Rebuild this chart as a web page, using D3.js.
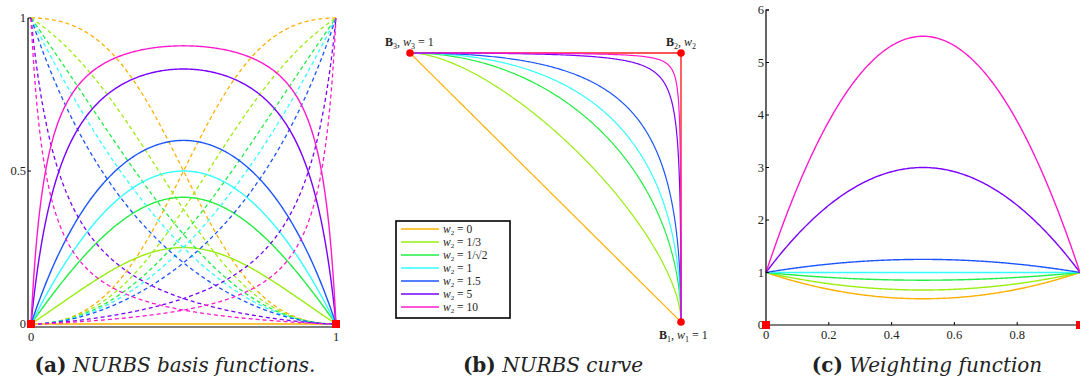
<!DOCTYPE html>
<html><head><meta charset="utf-8">
<script src="https://cdn.jsdelivr.net/npm/d3@7/dist/d3.min.js"></script>
<style>
body{margin:0;background:#fff;}
svg text{font-family:"Liberation Serif","DejaVu Serif",serif;fill:#222;}
</style></head>
<body>
<svg id="c" width="1080" height="383"></svg>
<script>
// ---- data ----
const weights = [0, 1/3, Math.SQRT1_2, 1, 1.5, 5, 10];
const weightLabels = ["0", "1/3", "1/\u221A2", "1", "1.5", "5", "10"];
const colors = ["#ffb000", "#99ee11", "#22ee44", "#33ffff", "#1a55ff", "#7a00ff", "#ff1acc"];
const ticksA_x = [0, 1];
const ticksA_y = [0, 0.5, 1];
const ticksC_x = [0, 0.2, 0.4, 0.6, 0.8, 1];
const ticksC_xLabels = ["0", "0.2", "0.4", "0.6", "0.8", ""];
const ticksC_y = [0, 1, 2, 3, 4, 5, 6];
const controlPts = [[0, 1], [1, 1], [1, 0]]; // B3, B2, B1 in panel (b)
const tGrid = d3.range(0, 1.00001, 0.004);
const captions = [["(a)", " NURBS basis functions."], ["(b)", " NURBS curve"], ["(c)", " Weighting function"]];

// rational quadratic basis (w1 = w3 = 1)
const W = (t, w) => (1 - t) * (1 - t) + 2 * t * (1 - t) * w + t * t;
const N0 = (t, w) => (1 - t) * (1 - t) / W(t, w);
const N1 = (t, w) => 2 * t * (1 - t) * w / W(t, w);
const N2 = (t, w) => t * t / W(t, w);

const svg = d3.select("#c");

// ---------- Panel (a) ----------
const ax = d3.scaleLinear().domain([0, 1]).range([31, 336]);
const ay = d3.scaleLinear().domain([0, 1]).range([324, 18]);
const gA = svg.append("g");
const lineA = f => d3.line().x(t => ax(t)).y(t => ay(f(t)));
weights.forEach((w, i) => {
  gA.append("path").attr("d", lineA(t => N0(t, w))(tGrid)).attr("fill", "none")
    .attr("stroke", colors[i]).attr("stroke-width", 1.3).attr("stroke-dasharray", "4,3");
  gA.append("path").attr("d", lineA(t => N2(t, w))(tGrid)).attr("fill", "none")
    .attr("stroke", colors[i]).attr("stroke-width", 1.3).attr("stroke-dasharray", "4,3");
  gA.append("path").attr("d", lineA(t => N1(t, w))(tGrid)).attr("fill", "none")
    .attr("stroke", colors[i]).attr("stroke-width", 1.4);
});
// axes
gA.append("path").attr("d", `M28,18V327H338`).attr("fill", "none").attr("stroke", "#000").attr("stroke-width", 1.2);
ticksA_y.forEach(v => {
  gA.append("line").attr("x1", 28).attr("x2", 31).attr("y1", ay(v)).attr("y2", ay(v)).attr("stroke", "#000");
  gA.append("text").attr("x", 26).attr("y", ay(v) + 4).attr("text-anchor", "end").attr("font-size", 12.5).text(v);
});
ticksA_x.forEach(v => {
  gA.append("text").attr("x", ax(v)).attr("y", 341).attr("text-anchor", "middle").attr("font-size", 12.5).text(v);
});
[0, 1].forEach(v => {
  gA.append("rect").attr("x", ax(v) - 4).attr("y", ay(0) - 4).attr("width", 8).attr("height", 8).attr("fill", "#ff0000");
});

// ---------- Panel (b) ----------
const bx = d3.scaleLinear().domain([0, 1]).range([410, 681]);
const by = d3.scaleLinear().domain([0, 1]).range([322, 53]);
const gB = svg.append("g");
gB.append("path").attr("d", d3.line().x(d => bx(d[0])).y(d => by(d[1]))(controlPts))
  .attr("fill", "none").attr("stroke", "#ff2020").attr("stroke-width", 1.4);
const P1 = controlPts[2], P2 = controlPts[1], P3 = controlPts[0];
weights.forEach((w, i) => {
  const pts = tGrid.map(t => {
    const a = N0(t, w), b = N1(t, w), c = N2(t, w);
    return [a * P1[0] + b * P2[0] + c * P3[0], a * P1[1] + b * P2[1] + c * P3[1]];
  });
  gB.append("path").attr("d", d3.line().x(d => bx(d[0])).y(d => by(d[1]))(pts))
    .attr("fill", "none").attr("stroke", colors[i]).attr("stroke-width", 1.2);
});
controlPts.forEach(p => {
  gB.append("circle").attr("cx", bx(p[0])).attr("cy", by(p[1])).attr("r", 3.8).attr("fill", "#ff0000");
});
function mathLabel(g, x, y, idx, rest) {
  const t = g.append("text").attr("x", x).attr("y", y).attr("font-size", 12).attr("fill", "#333");
  t.append("tspan").attr("font-weight", "bold").text("B");
  t.append("tspan").attr("font-size", 8).attr("dy", 3).text(idx);
  t.append("tspan").attr("dy", -3).text(", ");
  t.append("tspan").attr("font-style", "italic").text("w");
  t.append("tspan").attr("font-size", 8).attr("dy", 3).text(idx);
  t.append("tspan").attr("dy", -3).text(rest);
}
mathLabel(gB, 385, 46, "3", " = 1");
mathLabel(gB, 666, 46, "2", "");
mathLabel(gB, 659, 339, "1", " = 1");
// legend
const lg = gB.append("g");
lg.append("rect").attr("x", 396).attr("y", 221).attr("width", 114).attr("height", 97)
  .attr("fill", "#fff").attr("stroke", "#000").attr("stroke-width", 1.6);
weights.forEach((w, i) => {
  const yy = 229 + i * 13;
  lg.append("line").attr("x1", 401).attr("x2", 439).attr("y1", yy).attr("y2", yy)
    .attr("stroke", colors[i]).attr("stroke-width", 1.4);
  const t = lg.append("text").attr("x", 443).attr("y", yy + 4).attr("font-size", 11.5).attr("fill", "#444");
  t.append("tspan").attr("font-style", "italic").text("w");
  t.append("tspan").attr("font-size", 7).attr("dy", 2).text("2");
  t.append("tspan").attr("dy", -2).text(" = " + weightLabels[i]);
});

// ---------- Panel (c) ----------
const cx = d3.scaleLinear().domain([0, 1]).range([766, 1080]);
const cy = d3.scaleLinear().domain([0, 6]).range([325, 10]);
const gC = svg.append("g");
weights.forEach((w, i) => {
  gC.append("path").attr("d", d3.line().x(t => cx(t)).y(t => cy(W(t, w)))(tGrid))
    .attr("fill", "none").attr("stroke", colors[i]).attr("stroke-width", 1.4);
});
gC.append("path").attr("d", `M769,10H766V325H1080`).attr("fill", "none").attr("stroke", "#000").attr("stroke-width", 1.2);
ticksC_y.forEach(v => {
  gC.append("line").attr("x1", 766).attr("x2", 769).attr("y1", cy(v)).attr("y2", cy(v)).attr("stroke", "#000");
  gC.append("text").attr("x", 764).attr("y", cy(v) + 4).attr("text-anchor", "end").attr("font-size", 12.5).text(v);
});
ticksC_x.forEach((v, i) => {
  gC.append("line").attr("x1", cx(v)).attr("x2", cx(v)).attr("y1", 325).attr("y2", 322).attr("stroke", "#000");
  if (ticksC_xLabels[i]) gC.append("text").attr("x", cx(v)).attr("y", 339).attr("text-anchor", "middle").attr("font-size", 12.5).text(ticksC_xLabels[i]);
});
[0, 1].forEach(v => {
  gC.append("rect").attr("x", cx(v) - 4).attr("y", cy(0) - 4).attr("width", 8).attr("height", 8).attr("fill", "#ff0000");
});

// ---------- captions ----------
const capX = [175, 553, 927];
captions.forEach((c, i) => {
  const t = svg.append("text").attr("x", capX[i]).attr("y", 372).attr("text-anchor", "middle")
    .attr("font-size", 20).style("font-family", "'DejaVu Serif',serif").attr("fill", "#111");
  t.append("tspan").attr("font-weight", "bold").text(c[0]);
  t.append("tspan").attr("font-style", "italic").text(c[1]);
});
</script>
</body></html>
